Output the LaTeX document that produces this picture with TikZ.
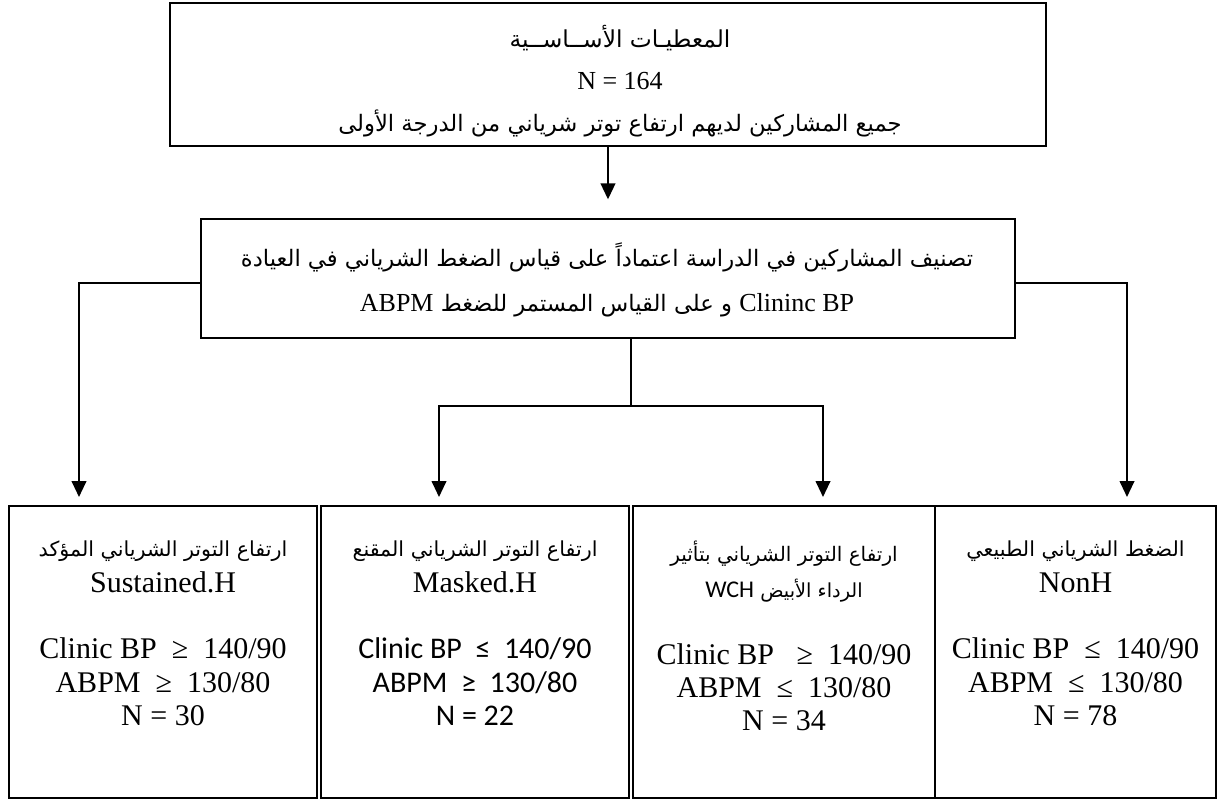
\documentclass[tikz,border=0pt]{standalone}
\usepackage{fontspec}
\setmainfont{Liberation Serif}
\newfontfamily\arabicfont[Script=Arabic]{DejaVu Sans}
\newfontfamily\calibrifont{Carlito}
\TeXXeTstate=1
\usetikzlibrary{arrows.meta,positioning}
\newcommand{\arsz}[1]{\arabicfont\fontsize{#1}{#1}\selectfont}
\newcommand{\ltsz}[1]{\rmfamily\fontsize{#1}{#1}\selectfont}

\begin{document}
\begin{tikzpicture}[x=0.75pt,y=-0.75pt,
    box/.style={draw,line width=1.5pt,inner sep=0pt,anchor=north west},
    txt/.style={align=center,inner sep=0pt},
    link/.style={line width=1.5pt},
    flow/.style={line width=1.5pt,-{Triangle[width=11pt,length=12pt]}}]
  \useasboundingbox (0,0) rectangle (1217,799);
  % boxes
  \node[box,minimum width=657pt,minimum height=107.25pt] (base) at (169,2) {};
  \node[box,minimum width=610.5pt,minimum height=89.25pt] (cls) at (200,218) {};
  \node[box,minimum width=231pt,minimum height=219pt] (sus) at (8,505) {};
  \node[box,minimum width=231pt,minimum height=219pt] (mask) at (320,505) {};
  \node[box,minimum width=226.5pt,minimum height=219pt] (wch) at (632,505) {};
  \node[box,minimum width=210.75pt,minimum height=219pt] (non) at (934,505) {};
  % texts
  \node[txt,font=\fontsize{19.5}{31.5}\selectfont] (baseT) at (620,81) {{\arsz{17.5}\beginR المعطيـات الأســاســية\endR}\\ N = 164\\ {\arsz{17}\beginR جميع المشاركين لديهم ارتفاع توتر شرياني من الدرجة الأولى\endR}};
  \node[txt,font=\fontsize{19.5}{33.75}\selectfont] (clsT) at (607,280) {{\arsz{17}\beginR تصنيف المشاركين في الدراسة اعتماداً على قياس الضغط الشرياني في العيادة\endR}\\ {\arsz{17}\beginR\beginL{\ltsz{19.5}Clininc BP}\endL{} و على القياس المستمر للضغط \beginL{\ltsz{19.5}ABPM}\endL\endR}};
  \node[txt,font=\fontsize{22.5}{25}\selectfont] (susT) at (sus.center |- 0,633) {{\arsz{15.5}\beginR ارتفاع التوتر الشرياني المؤكد\endR}\\[2pt] Sustained.H\\[25pt] Clinic BP ~≥~ 140/90\\ ABPM ~≥~ 130/80\\ N = 30};
  \node[txt,font=\fontsize{22.5}{25}\selectfont] (maskT) at (mask.center |- 0,633) {{\arsz{15.5}\beginR ارتفاع التوتر الشرياني المقنع\endR}\\[2pt] Masked.H\\[25pt] {\calibrifont Clinic BP ~≤~ 140/90}\\ {\calibrifont ABPM ~≥~ 130/80}\\ {\calibrifont N = 22}};
  \node[txt,font=\fontsize{22.5}{25}\selectfont] (wchT) at (wch.center |- 0,636) {{\arsz{15}\beginR ارتفاع التوتر الشرياني بتأثير\endR}\\[2pt] {\arsz{14.5}\beginR الرداء الأبيض \beginL{\calibrifont\fontsize{18}{18}\selectfont WCH}\endL\endR}\\[25pt] Clinic BP ~~≥~ 140/90\\ ABPM ~≤~ 130/80\\ N = 34};
  \node[txt,font=\fontsize{22.5}{25}\selectfont] (nonT) at (non.center |- 0,633) {{\arsz{15.5}\beginR الضغط الشرياني الطبيعي\endR}\\[2pt] NonH\\[25pt] Clinic BP ~≤~ 140/90\\ ABPM ~≤~ 130/80\\ N = 78};
  % connectors
  \coordinate (susIn) at (79,505);
  \coordinate (maskIn) at (439,505);
  \coordinate (wchIn) at (823,505);
  \coordinate (nonIn) at (1127,505);
  \coordinate (split) at (631,406);
  \draw[flow,shorten >=14pt] (base.south) -- (base.south |- cls.north);
  \draw[flow,shorten >=6pt] ([yshift=-3pt]cls.west) -| (susIn);
  \draw[flow,shorten >=6pt] ([yshift=-3pt]cls.east) -| (nonIn);
  \draw[link] (cls.south -| split) -- (split);
  \draw[flow,shorten >=6pt] (split) -| (maskIn);
  \draw[flow,shorten >=6pt] (split) -| (wchIn);
\end{tikzpicture}
\end{document}
